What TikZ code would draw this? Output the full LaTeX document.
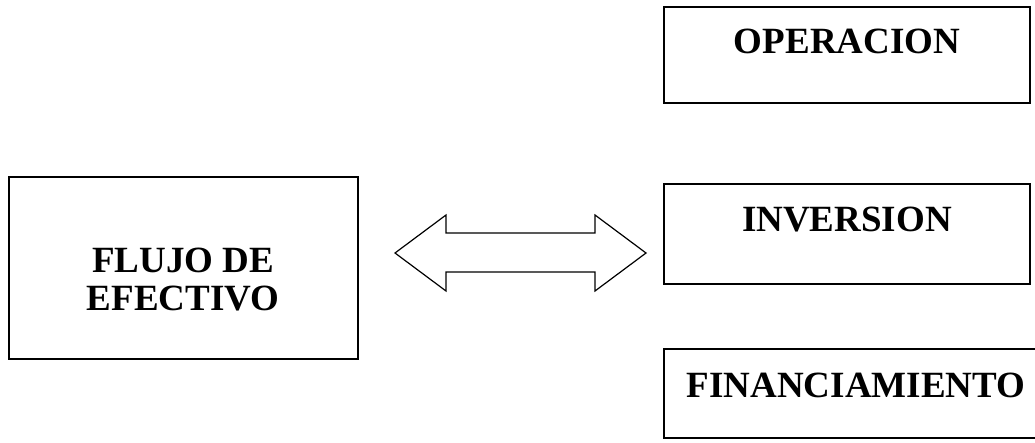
\documentclass[tikz,border=0pt]{standalone}
\usepackage{fontspec}
\setmainfont{Liberation Serif}
\begin{document}
\begin{tikzpicture}[x=1pt,y=-1pt,
  box/.style={draw=black,line width=1.3pt,rectangle,inner sep=0pt},
  txt/.style={font=\bfseries\fontsize{37}{38}\selectfont,inner sep=0pt,anchor=base}]
\useasboundingbox (0,0) rectangle (1035,442);
% boxes
\draw[box] (9,177) rectangle (358,359);
\node[box,minimum width=366pt,minimum height=96pt] (op) at (847,55) {};
\node[box,minimum width=366pt,minimum height=100pt] (inv) at (847,234) {};
\draw[line width=1.3pt] (1040,349) -- (664,349) -- (664,438) -- (1040,438);
\coordinate (fin) at (850,393);
% texts
\node[txt] (t1) at (183,272) {FLUJO DE};
\node[txt] (t2) at (183,310) {EFECTIVO};
\node[txt] (t3) at (847,53) {OPERACION};
\node[txt] (t4) at (847,231) {INVERSION};
\node[txt] (t5) at (856,397) {FINANCIAMIENTO};
% double arrow
\draw[line width=1.2pt,line join=miter] (395,253) -- (446,215) -- (446,233) -- (595,233) -- (595,215) -- (646,253)
  -- (595,291) -- (595,272) -- (446,272) -- (446,291) -- cycle;
\end{tikzpicture}
\end{document}
